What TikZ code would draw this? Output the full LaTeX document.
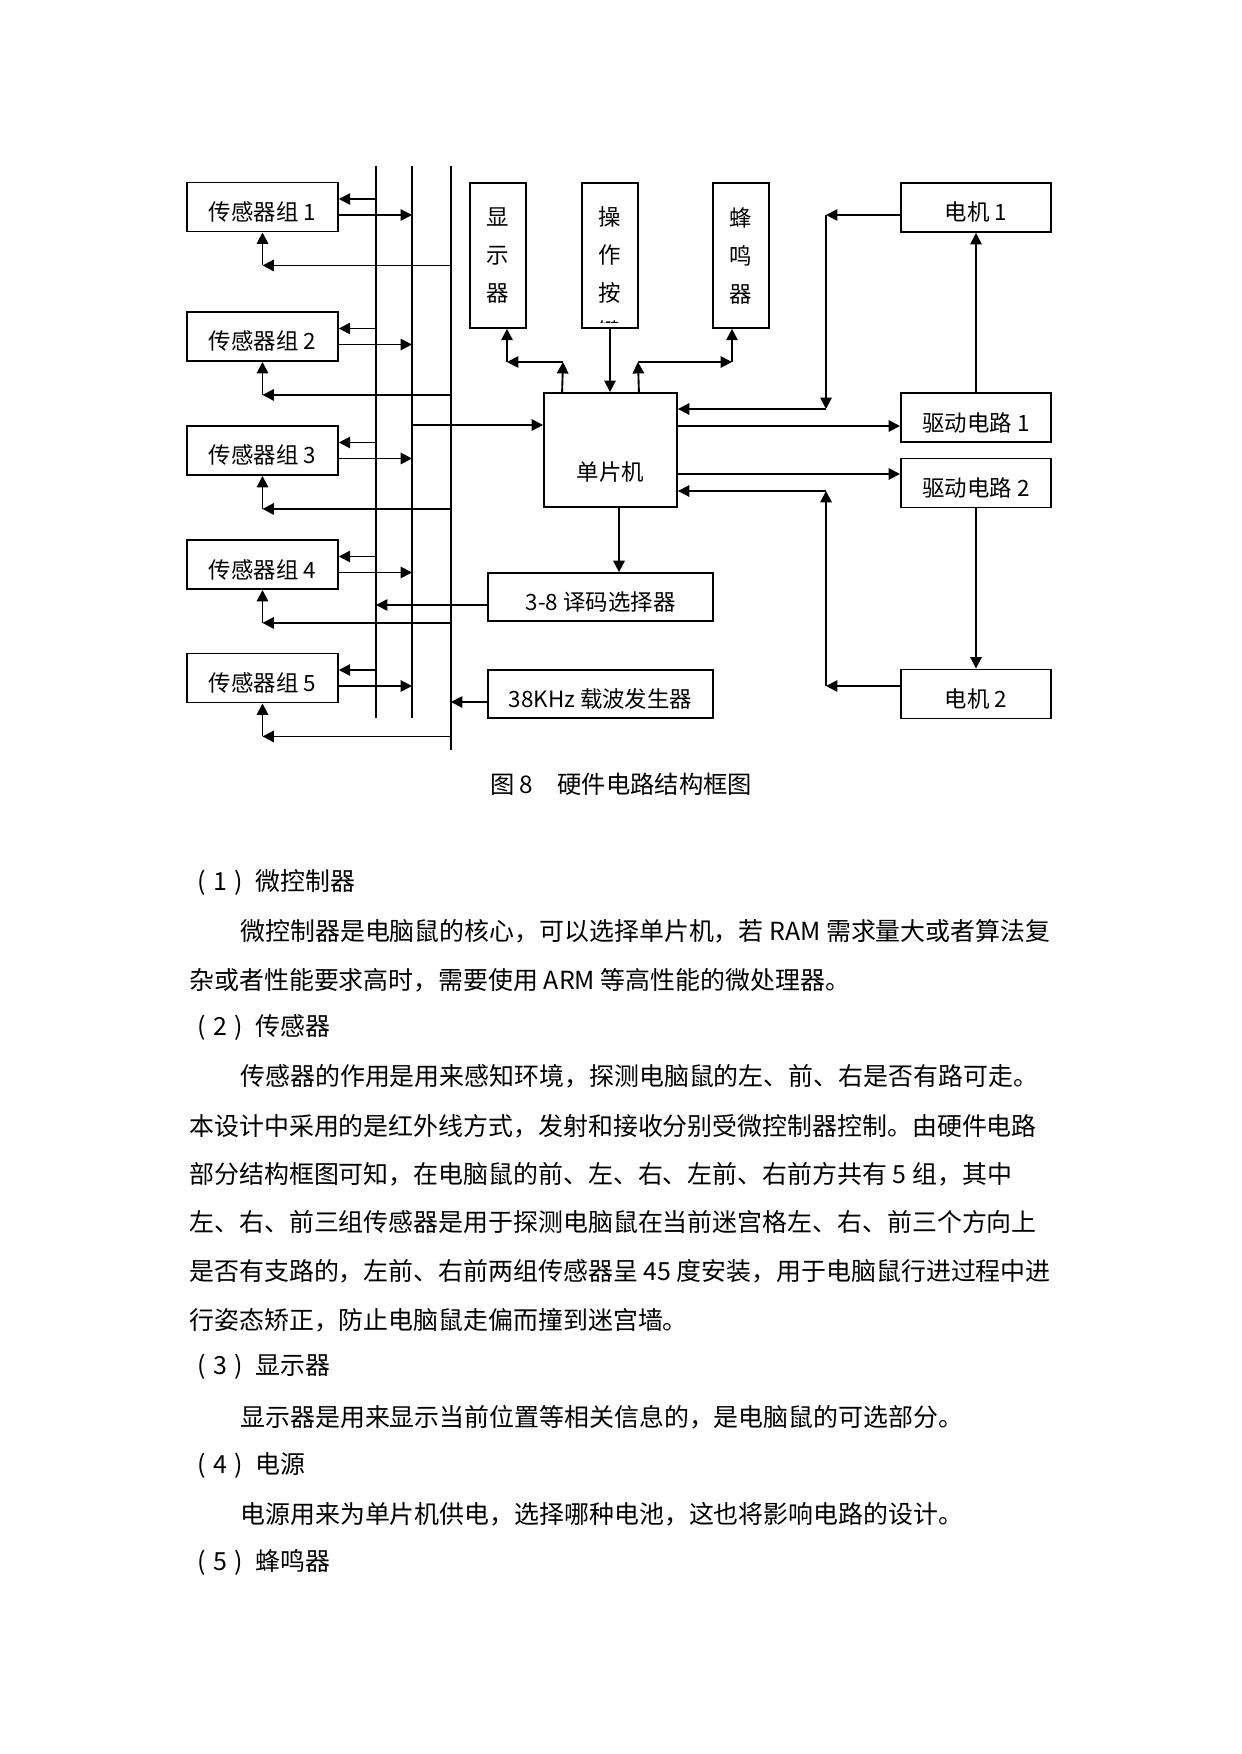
\documentclass[tikz,border=0pt]{standalone}
\usepackage{fontspec}
\setmainfont{Noto Sans CJK SC}
\usetikzlibrary{arrows.meta,calc}

\begin{document}
\begin{tikzpicture}[
  x=0.16922mm, y=-0.16922mm,
  font=\fontsize{10.8pt}{13pt}\selectfont,
  blk/.style={rectangle, draw, line width=0.9pt, inner sep=0pt, align=center},
  line1/.style={text height=13pt, text depth=0pt},
  sens/.style={blk, line1, minimum width=25.5mm, minimum height=8.3mm},
  tall/.style={blk, minimum width=9.6mm, minimum height=24.5mm,
               font=\fontsize{10.8pt}{18.3pt}\selectfont},
  wide/.style={blk, line1, minimum width=38.1mm, minimum height=8.1mm},
  motor/.style={blk, line1, minimum width=25.4mm, minimum height=8.3mm},
  bus/.style={line width=1pt},
  thinbus/.style={line width=0.5pt},
  arr/.style={-{Triangle[length=5.5pt,width=5.5pt]}, line width=0.9pt},
  body/.style={anchor=west, inner sep=0pt, font=\fontsize{12pt}{14pt}\selectfont},
]
\useasboundingbox (0,0) rectangle (1241,1754);

% --- Barramentos ---
\coordinate (busA) at (376,166);
\coordinate (busAend) at (376,718);
\coordinate (busB) at (412,166);
\coordinate (busBend) at (412,718);
\coordinate (busC) at (451,166);
\coordinate (busCend) at (451,750);
\draw[bus] (busA) -- (busAend);
\draw[thinbus] (busB) -- (busBend);
\draw[bus] (busC) -- (busCend);

% --- Sensores ---
\foreach \i/\yy in {1/207,2/336.5,3/450.5,4/564.5,5/678}{
  \node[sens] (s\i) at (262.5,\yy) {传感器组 \i};
  \coordinate (in\i) at ($(s\i.east)+(0,-8)$);
  \coordinate (out\i) at ($(s\i.east)+(0,8)$);
  \coordinate (fb\i) at ($(s\i.south)+(0,33)$);
  \draw[arr] (in\i -| busA) -- (in\i);
  \draw[arr] (out\i) -- (out\i -| busB);
  \draw[arr] (fb\i -| busC) -- (fb\i);
  \draw[arr] (fb\i) -- (s\i.south);
}

% --- Nós ---
\node[tall] (disp) at (498,255.5) {显\\示\\器};
\node[tall] (keys) at (610,255.5) {};
\begin{scope}
  \clip ($(keys.south west)+(0,-6)$) rectangle (keys.north east);
  \node[font=\fontsize{10.8pt}{18.3pt}\selectfont, align=center, inner sep=0pt]
    (keystxt) at (610,274) {操\\作\\按\\键};
\end{scope}
\node[tall] (buzz) at (741,255.5) {蜂\\鸣\\器};

\node[blk, minimum width=22.5mm, minimum height=19.3mm] (mcu) at (610.5,450) {};
\node (mcutxt) at ($(mcu.center)+(0,22)$) {单片机};

\node[wide] (dec) at (600.5,597) {3-8 译码选择器};
\node[wide] (osc) at (600.5,694) {38KHz 载波发生器};

\node[motor] (m1)   at (976,207.5) {电机 1};
\node[motor] (drv1) at (976,417.5) {驱动电路 1};
\node[motor] (drv2) at (976,483)   {驱动电路 2};
\node[motor] (m2)   at (976,694)   {电机 2};

% --- Setas ---
\coordinate (mcuIn) at ($(mcu.north west)+(0,33)$);
\draw[arr] (mcuIn -| busB) -- (mcuIn);

\coordinate (dispUp) at ($(mcu.north west)+(19,0)$);
\coordinate (dispKnee) at (563,362);
\coordinate (dispFoot) at (507,362);
\draw[arr] (dispUp) -- (dispKnee);
\draw[arr] (dispKnee) -- (dispFoot);
\draw[arr] (dispFoot) -- (dispFoot |- disp.south);

\draw[arr] (keys.south) -- (keys.south |- mcu.north);

\coordinate (buzUp) at ($(mcu.north east)+(-39,0)$);
\coordinate (buzKnee) at (638,362);
\coordinate (buzFoot) at (732,362);
\draw[arr] (buzUp) -- (buzKnee);
\draw[arr] (buzKnee) -- (buzFoot);
\draw[arr] (buzFoot) -- (buzFoot |- buzz.south);

\coordinate (m1knee) at (826,215);
\coordinate (m1foot) at (826,409);
\draw[arr] (m1knee -| m1.west) -- (m1knee);
\draw[arr] (m1knee) -- (m1foot);
\draw[arr] (m1foot) -- (m1foot -| mcu.east);

\coordinate (drv1in) at ($(drv1.west)+(0,8.5)$);
\draw[arr] (drv1in -| mcu.east) -- (drv1in);
\draw[arr] (drv1.north) -- (m1.south);

\coordinate (drv2in) at ($(drv2.west)+(0,-9)$);
\draw[arr] (drv2in -| mcu.east) -- (drv2in);
\draw[arr] (drv2.south) -- (m2.north);

\coordinate (m2knee) at (826,686);
\coordinate (m2foot) at (826,491);
\draw[arr] (m2knee -| m2.west) -- (m2knee);
\draw[arr] (m2knee) -- (m2foot);
\draw[arr] (m2foot) -- (m2foot -| mcu.east);

\coordinate (mcuDn) at ($(mcu.south)+(8.5,0)$);
\draw[arr] (mcuDn) -- (mcuDn |- dec.north);

\coordinate (decOut) at ($(dec.west)+(0,8)$);
\draw[arr] (decOut) -- (decOut -| busA);
\coordinate (oscOut) at ($(osc.west)+(0,8)$);
\draw[arr] (oscOut) -- (oscOut -| busC);

% --- Legenda e texto ---
\node[font=\fontsize{11.7pt}{14pt}\selectfont] (cap) at (621,784) {图 8\quad 硬件电路结构框图};

\newcommand{\itemno}[1]{(\hspace{0.3em}#1\hspace{0.3em})\hspace{0.5em}}
\node[body] (l1)  at (197,882)  {\itemno{1}微控制器};
\node[body] (l2)  at (240,931)  {微控制器是电脑鼠的核心，可以选择单片机，若 RAM 需求量大或者算法复};
\node[body] (l3)  at (189,980)  {杂或者性能要求高时，需要使用 ARM 等高性能的微处理器。};
\node[body] (l4)  at (197,1027) {\itemno{2}传感器};
\node[body] (l5)  at (240,1076) {传感器的作用是用来感知环境，探测电脑鼠的左、前、右是否有路可走。};
\node[body] (l6)  at (189,1126) {本设计中采用的是红外线方式，发射和接收分别受微控制器控制。由硬件电路};
\node[body] (l7)  at (189,1174) {部分结构框图可知，在电脑鼠的前、左、右、左前、右前方共有 5 组，其中};
\node[body] (l8)  at (189,1222) {左、右、前三组传感器是用于探测电脑鼠在当前迷宫格左、右、前三个方向上};
\node[body] (l9)  at (189,1271) {是否有支路的，左前、右前两组传感器呈 45 度安装，用于电脑鼠行进过程中进};
\node[body] (l10) at (189,1320) {行姿态矫正，防止电脑鼠走偏而撞到迷宫墙。};
\node[body] (l11) at (197,1367) {\itemno{3}显示器};
\node[body] (l12) at (240,1417) {显示器是用来显示当前位置等相关信息的，是电脑鼠的可选部分。};
\node[body] (l13) at (197,1465) {\itemno{4}电源};
\node[body] (l14) at (240,1514) {电源用来为单片机供电，选择哪种电池，这也将影响电路的设计。};
\node[body] (l15) at (197,1562) {\itemno{5}蜂鸣器};

\end{tikzpicture}
\end{document}
